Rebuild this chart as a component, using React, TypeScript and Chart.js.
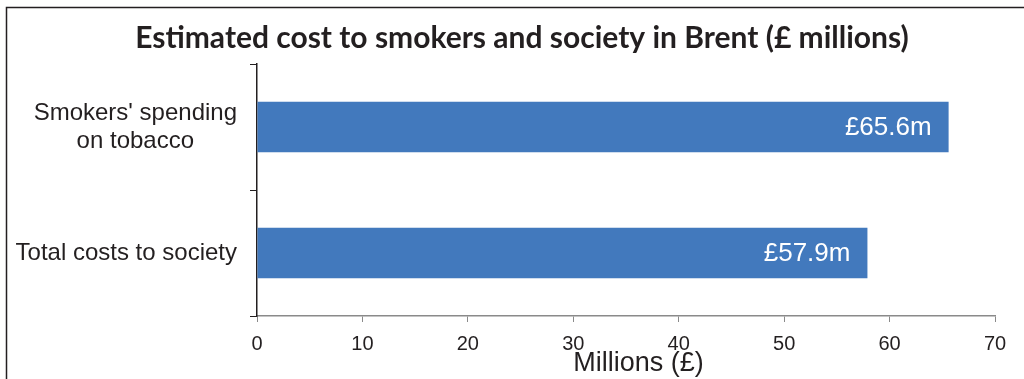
import { useEffect, useRef } from "react";
import { Chart, registerables } from "chart.js";

Chart.register(...registerables);

const chartTitle = "Estimated cost to smokers and society in Brent (£ millions)";
const categories: string[][] = [["Smokers' spending", "on tobacco"], ["Total costs to society"]];
const values = [65.6, 57.9];
const valueLabels = ["£65.6m", "£57.9m"];
const xMin = 0;
const xMax = 70;
const xStep = 10;
const xAxisTitle = "Millions (£)";

const W = 1024;
const H = 379;
const BAR_COLOR = "#4279BD";
const TEXT = "#231f20";
const SANS = "'Liberation Sans', Arial, sans-serif";

const framePlugin = {
  id: "frame",
  beforeDraw(chart: any) {
    const ctx = chart.ctx;
    ctx.save();
    ctx.fillStyle = "#ffffff";
    ctx.fillRect(0, 0, chart.width, chart.height);
    ctx.strokeStyle = "#231f20";
    ctx.lineWidth = 1.5;
    ctx.beginPath();
    ctx.moveTo(6.5, chart.height);
    ctx.lineTo(6.5, 7.5);
    ctx.lineTo(chart.width, 7.5);
    ctx.stroke();
    // title
    ctx.fillStyle = TEXT;
    ctx.font = "bold 30px Lato, 'Open Sans', sans-serif";
    ctx.textAlign = "center";
    ctx.textBaseline = "alphabetic";
    ctx.fillText(chartTitle, 522, 48);
    ctx.restore();
  },
  afterDraw(chart: any) {
    const ctx = chart.ctx;
    const yScale = chart.scales.y;
    const xScale = chart.scales.x;
    ctx.save();
    ctx.fillStyle = TEXT;
    // category labels: block right-aligned, lines centered within block
    ctx.font = `24px ${SANS}`;
    ctx.textAlign = "center";
    ctx.textBaseline = "middle";
    const lineH = 28;
    categories.forEach((lines, i) => {
      const py = yScale.getPixelForValue(i);
      const blockW = Math.max(...lines.map((l) => ctx.measureText(l).width));
      const cx = yScale.right - 20 - blockW / 2;
      const top = py - ((lines.length - 1) * lineH) / 2;
      lines.forEach((l, j) => ctx.fillText(l, cx, top + j * lineH));
    });
    // x axis title
    ctx.font = `27px ${SANS}`;
    ctx.textAlign = "center";
    ctx.textBaseline = "alphabetic";
    ctx.fillText(xAxisTitle, (xScale.left + chart.width - 4) / 2, 371);
    ctx.restore();
  },
};

const valueLabelPlugin = {
  id: "valueLabels",
  afterDatasetsDraw(chart: any) {
    const ctx = chart.ctx;
    const meta = chart.getDatasetMeta(0);
    ctx.save();
    ctx.fillStyle = "#ffffff";
    ctx.font = `26px ${SANS}`;
    ctx.textAlign = "right";
    ctx.textBaseline = "middle";
    meta.data.forEach((bar: any, i: number) => {
      ctx.fillText(valueLabels[i], bar.x - 17, bar.y + 1);
    });
    ctx.restore();
  },
};

export default function App() {
  const ref = useRef<HTMLCanvasElement>(null);

  useEffect(() => {
    if (!ref.current) return;
    const chart = new Chart(ref.current, {
      type: "bar",
      data: {
        labels: categories,
        datasets: [
          {
            data: values,
            backgroundColor: BAR_COLOR,
            borderWidth: 0,
            barPercentage: 0.4,
            categoryPercentage: 1,
          },
        ],
      },
      options: {
        indexAxis: "y",
        responsive: false,
        animation: false,
        devicePixelRatio: 1,
        layout: { padding: { top: 64, right: 29, left: 0, bottom: 0 } },
        plugins: {
          legend: { display: false },
          tooltip: { enabled: false },
          title: { display: false },
        },
        scales: {
          x: {
            type: "linear",
            min: xMin,
            max: xMax,
            ticks: {
              stepSize: xStep,
              color: TEXT,
              font: { family: SANS, size: 20 },
              padding: 10,
            },
            grid: {
              drawOnChartArea: false,
              drawTicks: true,
              tickLength: 6,
              color: "#8a8a8a",
            },
            border: { color: "#8a8a8a", width: 1.5 },
            title: { display: false },
            afterFit(scale: any) {
              scale.height = 63;
            },
          },
          y: {
            type: "category",
            offset: true,
            ticks: { display: false },
            grid: {
              offset: true,
              drawOnChartArea: false,
              drawTicks: true,
              tickLength: 7,
              color: "#231f20",
            },
            border: { color: "#231f20", width: 1.5 },
            afterFit(scale: any) {
              scale.width = 257;
            },
          },
        },
      },
      plugins: [framePlugin, valueLabelPlugin],
    });
    return () => chart.destroy();
  }, []);

  return (
    <div style={{ position: "fixed", left: 0, top: 0, width: W, height: H, background: "#fff" }}>
      <canvas ref={ref} width={W} height={H} style={{ display: "block", width: W, height: H }} />
    </div>
  );
}
